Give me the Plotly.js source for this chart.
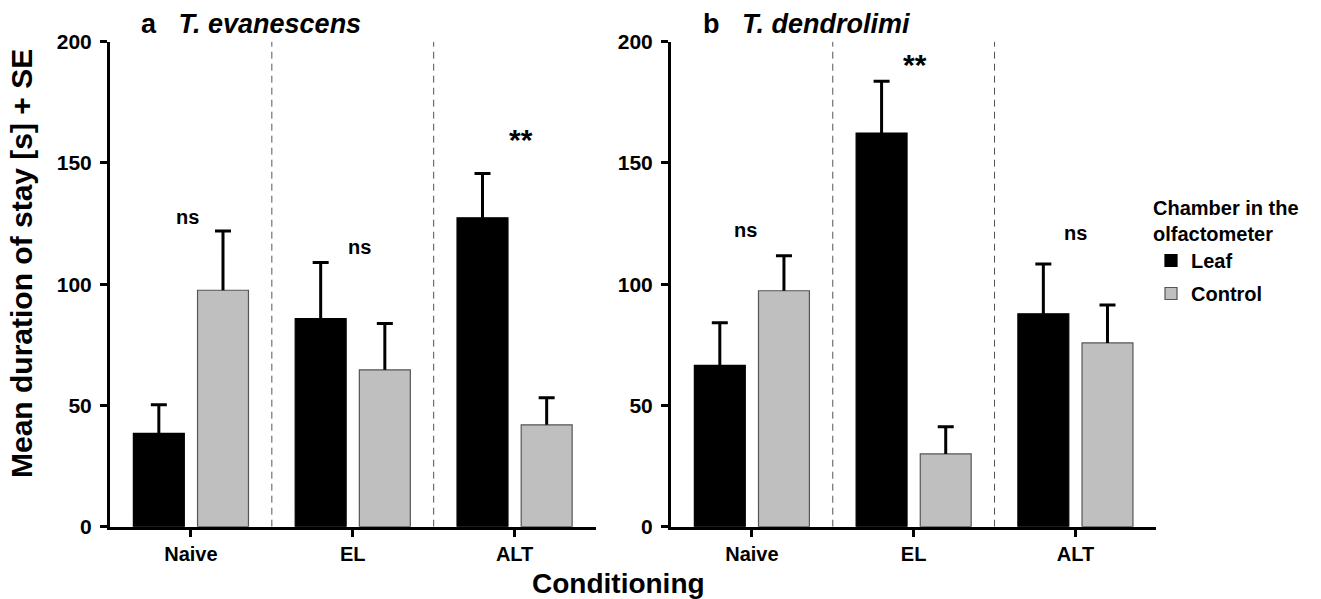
<!DOCTYPE html>
<html>
<head>
<meta charset="utf-8">
<script src="https://cdn.plot.ly/plotly-3.0.1.min.js"></script>
<style>html,body{margin:0;padding:0;background:#fff;}#chart{width:1321px;height:599px;}</style>
</head>
<body>
<div id="chart"></div>
<script>
const categories = ['Naive', 'EL', 'ALT'];
const seriesNames = ['Leaf', 'Control'];
const evanLeaf = [38.5, 85.8, 127.4];
const evanLeafSE = [11.8, 23.2, 18.2];
const evanControl = [97.5, 64.7, 42.0];
const evanControlSE = [24.4, 19.1, 11.2];
const dendLeaf = [66.5, 162.3, 87.8];
const dendLeafSE = [17.6, 21.4, 20.5];
const dendControl = [97.3, 30.0, 75.8];
const dendControlSE = [14.4, 11.2, 15.6];
const yTicks = [0, 50, 100, 150, 200];
const panelTitles = ['a\u00a0\u00a0\u00a0<i>T. evanescens</i>', 'b\u00a0\u00a0\u00a0<i>T. dendrolimi</i>'];
const evanSig = ['ns', 'ns', '**'];
const dendSig = ['ns', '**', 'ns'];

const FONT = 'Liberation Sans, Arial, Helvetica, sans-serif';
const W = 1321, H = 599;
const leafColor = '#000000';
const ctrlColor = '#bfbfbf';

function zeros(n){ return new Array(n).fill(0); }
function neg(a){ return a.map(v => -v); }

// main bars: vertical SE line only (no cap at bar top)
function barTrace(name, y, se, xa, ya, color, lineColor, showlegend){
  return {
    type: 'bar', name: name, x: categories, y: y,
    xaxis: xa, yaxis: ya, showlegend: showlegend, legendgroup: name,
    marker: {color: color, line: {color: lineColor, width: 1.2}},
    error_y: {type: 'data', symmetric: false, array: se, arrayminus: zeros(se.length),
              color: '#000', thickness: 3, width: 0},
    hoverinfo: 'x+y'
  };
}
// transparent overlay bars that draw only the SE cap
function capTrace(name, y, se, xa, ya){
  return {
    type: 'bar', name: name, x: categories, y: y,
    xaxis: xa, yaxis: ya, showlegend: false,
    marker: {color: 'rgba(0,0,0,0)', line: {width: 0}},
    error_y: {type: 'data', symmetric: false, array: se, arrayminus: neg(se),
              color: '#000', thickness: 3, width: 8},
    hoverinfo: 'skip'
  };
}

const traces = [
  barTrace(seriesNames[0], evanLeaf, evanLeafSE, 'x', 'y', leafColor, '#000', true),
  barTrace(seriesNames[1], evanControl, evanControlSE, 'x', 'y', ctrlColor, '#555', true),
  barTrace(seriesNames[0], dendLeaf, dendLeafSE, 'x2', 'y2', leafColor, '#000', false),
  barTrace(seriesNames[1], dendControl, dendControlSE, 'x2', 'y2', ctrlColor, '#555', false),
  capTrace(seriesNames[0], evanLeaf, evanLeafSE, 'x3', 'y3'),
  capTrace(seriesNames[1], evanControl, evanControlSE, 'x3', 'y3'),
  capTrace(seriesNames[0], dendLeaf, dendLeafSE, 'x4', 'y4'),
  capTrace(seriesNames[1], dendControl, dendControlSE, 'x4', 'y4')
];

const yDom = [1 - 526.7 / H, 1 - 41.7 / H];
const xDom1 = [110 / W, 595.5 / W];
const xDom2 = [671 / W, 1156.3 / W];
function xAxis(dom){
  return {
    domain: dom, type: 'category', range: [-0.5, 2.5], showgrid: false, zeroline: false,
    showline: true, linecolor: '#000', linewidth: 3,
    ticks: 'outside', ticklen: 7, tickwidth: 3, tickcolor: '#000',
    ticklabelstandoff: 0,
    tickfont: {family: FONT, size: 20, color: '#000', weight: 'bold'},
    automargin: false, fixedrange: true
  };
}
function yAxis(anchor){
  return {
    domain: yDom, anchor: anchor, range: [0, 200], tickvals: yTicks, ticktext: yTicks.map(String),
    showgrid: false, zeroline: false, showline: true, linecolor: '#000', linewidth: 3,
    ticks: 'outside', ticklen: 7, tickwidth: 3, tickcolor: '#000',
    ticklabelstandoff: 4,
    tickfont: {family: FONT, size: 21, color: '#000', weight: 'bold'},
    automargin: false, fixedrange: true
  };
}
function hiddenX(dom, over){
  return {domain: dom, type: 'category', range: [-0.5, 2.5], overlaying: over, visible: false,
          showgrid: false, zeroline: false, fixedrange: true, automargin: false};
}
function hiddenY(anchor, over){
  return {domain: yDom, anchor: anchor, range: [0, 200], overlaying: over, visible: false,
          showgrid: false, zeroline: false, fixedrange: true, automargin: false};
}

const shapes = [];
[['x','y'],['x2','y2']].forEach(([xa, ya]) => {
  [0.5, 1.5].forEach(xv => {
    shapes.push({type: 'line', xref: xa, yref: ya, x0: xv, x1: xv, y0: 0, y1: 200,
                 line: {color: '#555', width: 1, dash: '7px,5px'}});
  });
});

const annotations = [];
annotations.push({xref: 'paper', yref: 'paper', x: 139 / W, y: 1 - 24 / H, xanchor: 'left', yanchor: 'middle',
  text: '<b>' + panelTitles[0] + '</b>', showarrow: false, font: {family: FONT, size: 27, color: '#000'}});
annotations.push({xref: 'paper', yref: 'paper', x: 701 / W, y: 1 - 24 / H, xanchor: 'left', yanchor: 'middle',
  text: '<b>' + panelTitles[1] + '</b>', showarrow: false, font: {family: FONT, size: 27, color: '#000'}});
annotations.push({xref: 'paper', yref: 'paper', x: 21 / W, y: 1 - 264 / H, xanchor: 'center', yanchor: 'middle',
  textangle: -90, text: '<b>Mean duration of stay [s] + SE</b>', showarrow: false,
  font: {family: FONT, size: 30, color: '#000'}});
annotations.push({xref: 'paper', yref: 'paper', x: 618 / W, y: 1 - 583 / H, xanchor: 'center', yanchor: 'middle',
  text: '<b>Conditioning</b>', showarrow: false, font: {family: FONT, size: 28, color: '#000'}});

const evanSigPos = [[-0.02, 127.7], [1.04, 115.3], [2.04, 159.5]];
const dendSigPos = [[-0.04, 122.3], [1.01, 190.5], [2.0, 121.2]];
evanSig.forEach((t, i) => annotations.push({xref: 'x', yref: 'y', x: evanSigPos[i][0], y: evanSigPos[i][1],
  text: '<b>' + t + '</b>', showarrow: false, font: {family: FONT, size: t === '**' ? 30 : 20, color: '#000'}}));
dendSig.forEach((t, i) => annotations.push({xref: 'x2', yref: 'y2', x: dendSigPos[i][0], y: dendSigPos[i][1],
  text: '<b>' + t + '</b>', showarrow: false, font: {family: FONT, size: t === '**' ? 30 : 20, color: '#000'}}));

const layout = {
  width: W, height: H,
  margin: {l: 0, r: 0, t: 0, b: 0, pad: 0},
  paper_bgcolor: '#fff', plot_bgcolor: 'rgba(0,0,0,0)',
  barmode: 'group', bargap: 0.207, bargroupgap: 0.206,
  font: {family: FONT, color: '#000'},
  xaxis: xAxis(xDom1),
  yaxis: yAxis('x'),
  xaxis2: xAxis(xDom2),
  yaxis2: yAxis('x2'),
  xaxis3: hiddenX(xDom1, 'x'),
  yaxis3: hiddenY('x3', 'y'),
  xaxis4: hiddenX(xDom2, 'x2'),
  yaxis4: hiddenY('x4', 'y2'),
  showlegend: true,
  legend: {
    x: 1151 / W, xanchor: 'left', y: 1 - 189 / H, yanchor: 'top',
    bgcolor: 'rgba(0,0,0,0)', borderwidth: 0,
    title: {text: '<b>Chamber in the<br>olfactometer</b>', font: {family: FONT, size: 20, color: '#000'}},
    font: {family: FONT, size: 20, color: '#000', weight: 'bold'},
    tracegroupgap: 4, itemwidth: 30
  },
  shapes: shapes,
  annotations: annotations
};

Plotly.newPlot('chart', traces, layout, {displayModeBar: false, staticPlot: true});
</script>
</body>
</html>
